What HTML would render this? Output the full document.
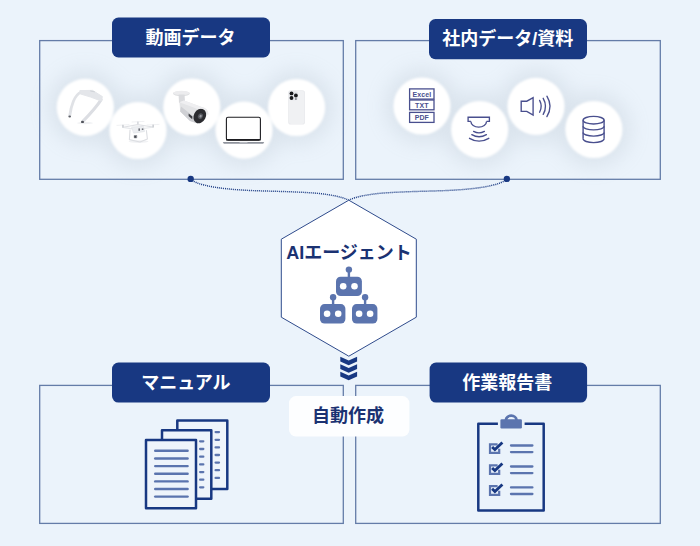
<!DOCTYPE html>
<html lang="ja"><head><meta charset="utf-8"><title>AI Agent diagram</title>
<style>html,body{margin:0;padding:0;background:#ebf3fb;font-family:"Liberation Sans",sans-serif;}svg{display:block}</style>
</head><body>
<svg width="700" height="546" viewBox="0 0 700 546" font-family="Liberation Sans, sans-serif">
<defs>
<filter id="sh" x="-50%" y="-50%" width="200%" height="200%"><feGaussianBlur stdDeviation="10"/></filter>
<filter id="soft" x="-10%" y="-10%" width="120%" height="120%"><feGaussianBlur stdDeviation="1.3"/></filter>
</defs>
<rect width="700" height="546" fill="#ebf3fb"/>
<rect x="39.7" y="40.6" width="303.6" height="138.70000000000002" fill="none" stroke="#647ca8" stroke-width="1.3"/>
<rect x="355.7" y="40.6" width="304.59999999999997" height="138.70000000000002" fill="none" stroke="#647ca8" stroke-width="1.3"/>
<rect x="39.7" y="385.4" width="303.6" height="138.0" fill="none" stroke="#647ca8" stroke-width="1.3"/>
<rect x="355.7" y="385.4" width="304.59999999999997" height="138.0" fill="none" stroke="#647ca8" stroke-width="1.3"/>
<g filter="url(#sh)" fill="#9aa8b6" opacity="0.2">
<circle cx="85.3" cy="107.3" r="37"/>
<circle cx="138" cy="130.5" r="37"/>
<circle cx="191.8" cy="107" r="37"/>
<circle cx="244" cy="130.1" r="37"/>
<circle cx="296.6" cy="107.5" r="37"/>
<circle cx="422" cy="106" r="37"/>
<circle cx="479.7" cy="129.5" r="37"/>
<circle cx="536" cy="106.3" r="37"/>
<circle cx="593.9" cy="129.5" r="37"/>
</g>
<g filter="url(#soft)">
<circle cx="85.3" cy="107.3" r="28.6" fill="#ffffff"/>
<circle cx="138" cy="130.5" r="28.6" fill="#ffffff"/>
<circle cx="191.8" cy="107" r="28.6" fill="#ffffff"/>
<circle cx="244" cy="130.1" r="28.6" fill="#ffffff"/>
<circle cx="296.6" cy="107.5" r="28.6" fill="#ffffff"/>
<circle cx="422" cy="106" r="28.6" fill="#ffffff"/>
<circle cx="479.7" cy="129.5" r="28.6" fill="#ffffff"/>
<circle cx="536" cy="106.3" r="28.6" fill="#ffffff"/>
<circle cx="593.9" cy="129.5" r="28.6" fill="#ffffff"/>
</g>
<g fill="none" stroke-linecap="round" stroke-linejoin="round">
<ellipse cx="85" cy="123" rx="8" ry="1.2" fill="#f0f1f3" stroke="none"/>
<path d="M69.7 116 C70.4 110.5 71.6 105.5 73.4 101.2 C75.4 96.6 77.6 93.4 81 92.2" stroke="#e0e2e6" stroke-width="2.8"/>
<path d="M82.6 121.6 C88.5 115.6 96.5 107 101.2 99.6" stroke="#dcdee3" stroke-width="3"/>
<path d="M80.2 90.6 L92.6 90.4 L102.4 96.6 L101.2 101 L90.5 97 L80.6 94 Z" fill="#e4e6ea" stroke="#e4e6ea" stroke-width="1"/>
<path d="M90.6 91 L94.4 91.8" stroke="#cdd0d6" stroke-width="0.9"/>
<ellipse cx="69.7" cy="116.4" rx="1.3" ry="1" fill="#5c5f66" stroke="none"/>
<ellipse cx="82.5" cy="121.9" rx="1.5" ry="1.2" fill="#50535a" stroke="none"/>
</g>
<g fill="none" stroke="#dfe1e5" stroke-width="1.1" stroke-linecap="round" stroke-linejoin="round">
<ellipse cx="138.5" cy="141.6" rx="10" ry="1.4" fill="#f1f2f4" stroke="none"/>
<path d="M123 127.2 L137.6 124.6 L153 127"/>
<path d="M123 127.4 L136 129.4 L153 127.2" stroke="#e6e8eb"/>
<path d="M117 125.4 L129 124.6 M132 122 L144 121.4 M147 125 L159 124.4" stroke="#eceef0" stroke-width="0.8"/>
<path d="M130 130 L129.4 139.6 L140 142 L147.4 139 L146.4 130.6" stroke="#dcdee2"/>
<path d="M132 127 L143.5 126.4 L144.5 131.5 L134 133 Z" fill="#eceef1" stroke="#e2e4e8" stroke-width="0.8"/>
<rect x="122.2" y="124.8" width="1.5" height="2.8" fill="#c9ccd2" stroke="none"/>
<rect x="137.2" y="121.6" width="1.4" height="2.6" fill="#d0d3d8" stroke="none"/>
<rect x="152.4" y="124.6" width="1.5" height="2.8" fill="#c9ccd2" stroke="none"/>
<rect x="133.8" y="135" width="3.4" height="3.2" rx="0.8" fill="#8b8e95" stroke="none"/>
<circle cx="135.2" cy="136.8" r="0.9" fill="#3a3c42" stroke="none"/>
<rect x="138.4" y="128.4" width="1.6" height="2.4" fill="#6d7078" stroke="none"/>
<rect x="141.8" y="128.4" width="1.6" height="1.6" fill="#6d7078" stroke="none"/>
</g>
<g stroke="none">
<ellipse cx="181.4" cy="93.6" rx="8.4" ry="2.6" fill="#dedfe1"/>
<ellipse cx="181.4" cy="92.9" rx="8.2" ry="2.1" fill="#ececee"/>
<path d="M178.6 94.5 L184.6 94.5 L185 103 L179 103 Z" fill="#dadbde"/>
<path d="M179.4 102.2 L184 100.6 L203 107.6 L207.6 111.4 L206 116.4 L197.6 123.4 L190 121 L180.2 111.4 Z" fill="#e3e4e6"/>
<path d="M180.2 111.4 L190 121 L197.6 123.4 L193 116 L181 106.5 Z" fill="#cfd0d4"/>
<path d="M179.4 102.2 L184 100.6 L203 107.6 L207.6 111.4 L199 109.4 Z" fill="#efeff1"/>
<ellipse cx="199.8" cy="116" rx="6" ry="7.6" transform="rotate(28 199.8 116)" fill="#2b2c30"/>
<path d="M200.5 107.6 C204.5 108 207.6 110.6 207.8 114.6" fill="none" stroke="#ececee" stroke-width="1.8"/>
<ellipse cx="200.4" cy="116.2" rx="2.4" ry="3" transform="rotate(28 200.4 116.2)" fill="#55575d"/>
<ellipse cx="200.6" cy="116.2" rx="1.1" ry="1.4" transform="rotate(28 200.6 116.2)" fill="#9a9ca3"/>
<path d="M188.6 113.6 L192.4 116.6 L192.2 119.2 L188.6 116 Z" fill="#3a3b40"/>
</g>
<g>
<rect x="226.4" y="117.3" width="34" height="22.8" rx="1.6" fill="#ffffff" stroke="#1d1d21" stroke-width="1.1"/>
<rect x="226" y="139" width="34.8" height="1.6" rx="0.6" fill="#1d1d21"/>
<path d="M222.8 141.9 L264.2 141.9 L263.2 143.7 L223.8 143.7 Z" fill="#8f939c"/>
<rect x="239.5" y="141.9" width="8" height="0.8" fill="#c9ccd2"/>
</g>
<g stroke="none">
<rect x="288.2" y="90.2" width="16.8" height="34.4" rx="2.6" fill="#e9eaed"/>
<rect x="288.9" y="90.9" width="15.4" height="33" rx="2.1" fill="#f0f1f3"/>
<rect x="289.3" y="91.2" width="8.8" height="9" rx="2.2" fill="#e4e5e9"/>
<circle cx="291.5" cy="93.4" r="1.9" fill="#17181b"/>
<circle cx="291.5" cy="98" r="1.9" fill="#17181b"/>
<circle cx="295.9" cy="95.5" r="1.9" fill="#17181b"/>
<rect x="295.2" y="98.2" width="1.4" height="1.6" fill="#6c6e75"/>
</g>
<g fill="none" stroke="#494f8e" stroke-width="1.3">
<rect x="409.6" y="88.9" width="24.4" height="10.2"/>
<rect x="409.6" y="100" width="24.4" height="9.8"/>
<rect x="409.6" y="112.4" width="24.4" height="10"/>
</g>
<g fill="#494f8e" font-weight="700" font-size="7" text-anchor="middle" letter-spacing="0.1">
<text x="421.8" y="96.9">Excel</text>
<text x="421.8" y="107.9">TXT</text>
<text x="421.8" y="119.7">PDF</text>
</g>
<g fill="none" stroke="#494f8e" stroke-width="1.35" stroke-linecap="round" stroke-linejoin="miter">
<path d="M470.9 121.4 L468.1 121.4 L468.1 117.2 L489.4 117.2 L489.4 121.4 L486.5 121.4" stroke-linecap="butt"/>
<path d="M470.9 121.4 A7.8 5.7 0 0 0 486.5 121.4" stroke-linecap="butt"/>
<path d="M473.6 131.4 Q479 134.4 484.4 131.4"/>
<path d="M471.8 134.6 Q479 139 486.4 134.6"/>
<path d="M469.5 138.3 Q479 144 488.8 138.3"/>
</g>
<g fill="none" stroke="#494f8e" stroke-width="1.35" stroke-linejoin="miter">
<path d="M521.2 101.2 L526.8 101.2 L533.1 97.7 L533.1 115.1 L526.8 111.3 L521.2 111.3 Z"/>
<path d="M539.6 100.4 Q542.8 106.3 539.6 112.2" stroke-linecap="round"/>
<path d="M543.2 98.3 Q547.8 106.3 543.2 114.3" stroke-linecap="round"/>
<path d="M546.9 96.2 Q553.2 106.4 546.9 116.6" stroke-linecap="round"/>
</g>
<g fill="none" stroke="#494f8e" stroke-width="1.4">
<ellipse cx="593.6" cy="120.2" rx="10.5" ry="3.8"/>
<path d="M583.1 120.2 L583.1 138.8 M604.1 120.2 L604.1 138.8"/>
<path d="M583.1 126.2 A10.5 3.7 0 0 0 604.1 126.2"/>
<path d="M583.1 132.4 A10.5 3.7 0 0 0 604.1 132.4"/>
<path d="M583.1 138.8 A10.5 3.8 0 0 0 604.1 138.8"/>
</g>
<g fill="none" stroke="#183882" stroke-width="1.45" stroke-dasharray="1 1">
<path d="M190.7 179 C194 182 199 184 205.7 185.4 C216 188 232 189.6 250 190.5 C270 191.3 292 191.4 316.4 193.2 C330 194.6 341 196.6 348.6 200"/>
<path d="M190.7 179 C194 182 199 184 205.7 185.4 C216 188 232 189.6 250 190.5 C270 191.3 292 191.4 316.4 193.2 C330 194.6 341 196.6 348.6 200" transform="translate(697.4 0) scale(-1 1)"/>
</g>
<circle cx="190.7" cy="178.9" r="3.2" fill="#183882"/>
<circle cx="506.9" cy="178.9" r="3.2" fill="#183882"/>
<polygon points="348.8,200.2 416.3,239.2 416.3,317.2 348.8,356.2 281.3,317.2 281.3,239.2" fill="#ffffff" stroke="#2f4b8c" stroke-width="1"/>
<rect x="336" y="276.7" width="25.9" height="19.3" rx="4.6" fill="#5b74ae"/>
<rect x="347.7" y="269.6" width="2.4" height="8.099999999999966" fill="#5b74ae"/>
<circle cx="348.9" cy="269.6" r="3.2" fill="#5b74ae"/>
<rect x="320" y="304.1" width="25.4" height="19.4" rx="4.6" fill="#5b74ae"/>
<rect x="331.90000000000003" y="297.2" width="2.4" height="7.900000000000034" fill="#5b74ae"/>
<circle cx="333.1" cy="297.2" r="3.2" fill="#5b74ae"/>
<rect x="352" y="304.1" width="25.4" height="19.4" rx="4.6" fill="#5b74ae"/>
<rect x="363.90000000000003" y="297.2" width="2.4" height="7.900000000000034" fill="#5b74ae"/>
<circle cx="365.1" cy="297.2" r="3.2" fill="#5b74ae"/>
<circle cx="343.2" cy="286.3" r="3.3" fill="#ffffff"/>
<circle cx="354.5" cy="286.3" r="3.3" fill="#ffffff"/>
<circle cx="327.1" cy="313.7" r="3.3" fill="#ffffff"/>
<circle cx="338.2" cy="313.7" r="3.3" fill="#ffffff"/>
<circle cx="359.1" cy="313.7" r="3.3" fill="#ffffff"/>
<circle cx="370.1" cy="313.7" r="3.3" fill="#ffffff"/>
<path d="M340.3 356.8 L348.7 360.5 L357.1 356.8 L357.1 361.5 L348.7 365.2 L340.3 361.5 Z" fill="#183882"/>
<path d="M340.3 364.3 L348.7 368.0 L357.1 364.3 L357.1 369.0 L348.7 372.7 L340.3 369.0 Z" fill="#183882"/>
<path d="M340.3 371.8 L348.7 375.5 L357.1 371.8 L357.1 376.5 L348.7 380.2 L340.3 376.5 Z" fill="#183882"/>
<rect x="112" y="17.5" width="158" height="40.0" rx="6.5" fill="#183882"/>
<rect x="429" y="19" width="158" height="40.2" rx="6.5" fill="#183882"/>
<rect x="112" y="362.6" width="158" height="40.0" rx="6.5" fill="#183882"/>
<rect x="429.6" y="362.6" width="157.5" height="40.0" rx="6.5" fill="#183882"/>
<text x="190.5" y="43.99" text-anchor="middle" font-family="Liberation Sans, Noto Sans CJK JP, sans-serif" font-size="18" font-weight="700" fill="#ffffff">動画データ</text>
<text x="507.7" y="45.05" text-anchor="middle" font-family="Liberation Sans, Noto Sans CJK JP, sans-serif" font-size="18" font-weight="700" fill="#ffffff">社内データ/資料</text>
<text x="185.9" y="388.88" text-anchor="middle" font-family="Liberation Sans, Noto Sans CJK JP, sans-serif" font-size="18" font-weight="700" fill="#ffffff">マニュアル</text>
<text x="507.3" y="388.7" text-anchor="middle" font-family="Liberation Sans, Noto Sans CJK JP, sans-serif" font-size="18" font-weight="700" fill="#ffffff">作業報告書</text>
<rect x="289" y="396.1" width="120.4" height="40.4" rx="7" fill="#fdfeff"/>
<text x="348.1" y="422.04" text-anchor="middle" font-family="Liberation Sans, Noto Sans CJK JP, sans-serif" font-size="18" font-weight="700" fill="#1b3272">自動作成</text>
<text x="349" y="258.9" text-anchor="middle" font-family="Liberation Sans, Noto Sans CJK JP, sans-serif" font-size="18" font-weight="700" fill="#1b3272">AIエージェント</text>
<rect x="177.3" y="420.6" width="50" height="68.4" fill="#eef4fb" stroke="#183882" stroke-width="2.5" stroke-linejoin="round"/>
<g stroke="#5b74ae" stroke-width="2.3" stroke-linecap="round">
<path d="M215.6 432.1 L219 432.1"/>
<path d="M215.6 439.8 L219 439.8"/>
<path d="M215.6 447.4 L219 447.4"/>
<path d="M215.6 455 L219 455"/>
<path d="M215.6 462.6 L219 462.6"/>
<path d="M215.6 470.2 L219 470.2"/>
<path d="M215.6 477.9 L219 477.9"/>
</g>
<rect x="162" y="430.3" width="49.3" height="68.4" fill="#eef4fb" stroke="#183882" stroke-width="2.5" stroke-linejoin="round"/>
<g stroke="#5b74ae" stroke-width="2.3" stroke-linecap="round">
<path d="M200.1 441.3 L203.3 441.3"/>
<path d="M200.1 449 L203.3 449"/>
<path d="M200.1 456.7 L203.3 456.7"/>
<path d="M200.1 464.4 L203.3 464.4"/>
<path d="M200.1 472.1 L203.3 472.1"/>
<path d="M200.1 479.7 L203.3 479.7"/>
<path d="M200.1 487.3 L203.3 487.3"/>
</g>
<rect x="146" y="439.9" width="50" height="68.4" fill="#eef4fb" stroke="#183882" stroke-width="2.5" stroke-linejoin="round"/>
<g stroke="#5b74ae" stroke-width="2.4" stroke-linecap="round">
<path d="M155.2 450.8 L187.6 450.8"/>
<path d="M155.2 458.5 L187.6 458.5"/>
<path d="M155.2 466.1 L187.6 466.1"/>
<path d="M155.2 473.8 L187.6 473.8"/>
<path d="M155.2 481.4 L187.6 481.4"/>
<path d="M155.2 489 L187.6 489"/>
<path d="M155.2 496.6 L187.6 496.6"/>
</g>
<path d="M497.9 423.7 L478.3 423.7 L478.3 510.6 L543.7 510.6 L543.7 423.7 L524.6 423.7" fill="none" stroke="#183882" stroke-width="2.5" stroke-linejoin="round"/>
<path d="M505.95 420 A5.25 4.3 0 0 1 516.45 420" fill="none" stroke="#5b74ae" stroke-width="2.8"/>
<rect x="500.4" y="419.2" width="21.5" height="9.3" rx="1.2" fill="#5b74ae"/>
<path d="M497.6 444.29999999999995 L490 444.29999999999995 L490 452.9 L499.2 452.9 L499.2 448.79999999999995" fill="none" stroke="#5b74ae" stroke-width="2.2"/>
<path d="M492.1 446.9 L494.9 449.59999999999997 L502.4 442.59999999999997" fill="none" stroke="#183882" stroke-width="2.8" stroke-linecap="butt" stroke-linejoin="miter"/>
<g stroke="#5b74ae" stroke-width="2.3" stroke-linecap="round"><path d="M511 445.5 L532.4 445.5"/><path d="M511 452.09999999999997 L532.4 452.09999999999997"/></g>
<path d="M497.6 465.29999999999995 L490 465.29999999999995 L490 473.9 L499.2 473.9 L499.2 469.79999999999995" fill="none" stroke="#5b74ae" stroke-width="2.2"/>
<path d="M492.1 467.9 L494.9 470.59999999999997 L502.4 463.59999999999997" fill="none" stroke="#183882" stroke-width="2.8" stroke-linecap="butt" stroke-linejoin="miter"/>
<g stroke="#5b74ae" stroke-width="2.3" stroke-linecap="round"><path d="M511 466.5 L532.4 466.5"/><path d="M511 473.09999999999997 L532.4 473.09999999999997"/></g>
<path d="M497.6 486.2 L490 486.2 L490 494.8 L499.2 494.8 L499.2 490.7" fill="none" stroke="#5b74ae" stroke-width="2.2"/>
<path d="M492.1 488.8 L494.9 491.5 L502.4 484.5" fill="none" stroke="#183882" stroke-width="2.8" stroke-linecap="butt" stroke-linejoin="miter"/>
<g stroke="#5b74ae" stroke-width="2.3" stroke-linecap="round"><path d="M511 487.40000000000003 L532.4 487.40000000000003"/><path d="M511 494.0 L532.4 494.0"/></g>
</svg>
</body></html>
